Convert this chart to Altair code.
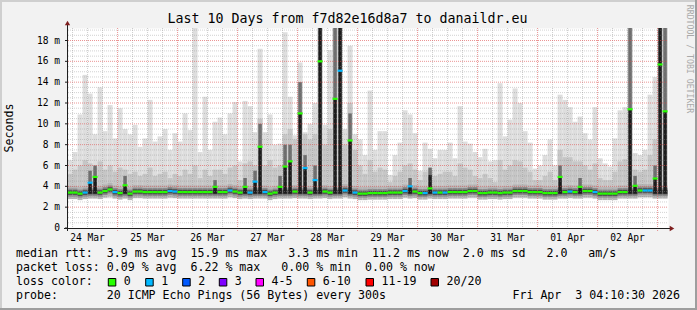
import altair as alt
import pandas as pd

# ---------------- data ----------------
# 2-hour bins, first bin starts Mar 24 04:00 (hours counted from Mar 24 00:00)
START_HOUR = 4
BIN_HOURS = 2
X_DOMAIN = [4.175, 244.175]      # Mar 24 04:10:30 .. Apr 3 04:10:30
Y_DOMAIN = [0, 19.2]

median_ms = [
    3.4, 3.4, 3.3, 3.4, 4.35, 4.9, 3.4, 3.55, 3.7, 3.45,
    3.35, 4.1, 3.3, 3.5, 3.5, 3.45, 3.45, 3.45, 3.45, 3.45,
    3.55, 3.5, 3.45, 3.45, 3.45, 3.45, 3.45, 3.45, 3.45, 3.95,
    3.45, 3.45, 3.6, 3.5, 3.4, 3.95, 3.4, 4.45, 7.8, 3.45,
    3.3, 3.4, 3.95, 5.9, 6.4, 3.5, 11.0, 5.75, 3.4, 4.6,
    16.0, 3.5, 3.4, 12.4, 15.1, 3.6, 8.4, 3.4, 3.3, 3.3,
    3.35, 3.35, 3.35, 3.35, 3.4, 3.4, 3.4, 3.55, 4.0, 3.5,
    3.35, 3.35, 3.8, 3.4, 3.4, 3.4, 3.45, 3.45, 3.45, 3.45,
    3.55, 3.55, 3.35, 3.35, 3.4, 3.4, 3.35, 3.4, 3.4, 3.55,
    3.55, 3.55, 3.45, 3.45, 3.45, 3.35, 3.35, 3.35, 4.9, 3.45,
    3.5, 3.45, 3.95, 3.55, 3.55, 3.45, 3.3, 3.3, 3.3, 3.3,
    3.45, 3.45, 11.4, 4.05, 3.6, 3.6, 3.6, 4.75, 15.7, 11.2,
]

loss_idx = [
    0, 0, 0, 1, 1, 0, 0, 0, 0, 1,
    0, 0, 0, 0, 0, 0, 0, 0, 0, 0,
    1, 1, 0, 0, 0, 0, 0, 0, 0, 0,
    0, 0, 1, 0, 0, 0, 1, 1, 0, 1,
    0, 0, 0, 0, 0, 0, 0, 1, 0, 1,
    0, 0, 0, 0, 1, 1, 0, 1, 0, 0,
    0, 0, 0, 0, 0, 0, 0, 1, 1, 0,
    0, 1, 0, 1, 0, 1, 0, 0, 0, 0,
    0, 0, 0, 0, 0, 0, 0, 0, 0, 0,
    0, 0, 0, 0, 0, 0, 0, 0, 0, 0,
    1, 0, 0, 0, 0, 1, 0, 0, 0, 0,
    0, 0, 0, 0, 0, 1, 1, 0, 0, 0,
]

max_ms = [
    6.5, 7.3, 10.9, 14.7, 12.9, 9.0, 13.5, 9.3, 11.8, 8.6,
    11.5, 9.5, 9.0, 9.9, 7.8, 8.6, 12.3, 8.3, 8.8, 9.5,
    7.5, 9.1, 8.3, 11.0, 9.4, 19.2, 7.3, 12.6, 7.5, 10.2,
    10.6, 9.0, 11.0, 12.1, 6.4, 12.2, 11.7, 9.2, 17.2, 9.2,
    10.9, 8.0, 8.1, 18.8, 12.6, 8.9, 15.9, 9.2, 10.0, 12.0,
    19.2, 9.9, 17.1, 19.2, 19.2, 9.5, 17.5, 9.0, 8.5, 7.0,
    13.2, 7.5, 9.3, 9.3, 5.1, 7.0, 8.2, 11.3, 10.9, 9.1,
    5.5, 8.2, 7.6, 6.7, 7.5, 7.5, 8.2, 6.7, 11.7, 8.3,
    8.1, 7.3, 6.8, 7.6, 6.4, 6.5, 13.9, 8.8, 10.4, 13.4,
    12.0, 9.3, 8.2, 5.7, 6.0, 7.0, 8.5, 6.0, 12.8, 12.3,
    11.6, 10.2, 10.7, 9.1, 8.5, 11.6, 6.7, 6.2, 5.9, 8.6,
    11.3, 11.6, 19.2, 7.2, 7.0, 7.5, 12.8, 14.5, 19.2, 19.2,
]

upper_ms = [
    5.2, 5.6, 6.0, 6.5, 6.2, 5.8, 6.4, 5.6, 6.0, 5.4,
    5.8, 5.6, 5.2, 5.4, 5.0, 5.2, 5.8, 5.0, 5.2, 5.4,
    4.8, 5.2, 5.0, 5.6, 5.2, 6.0, 4.8, 5.6, 5.0, 5.6,
    5.6, 5.2, 5.8, 6.0, 4.6, 6.2, 6.4, 6.0, 10.5, 6.0,
    6.5, 5.8, 6.0, 9.0, 9.5, 8.5, 14.0, 9.0, 8.5, 9.0,
    19.2, 8.0, 9.5, 19.2, 19.2, 8.0, 12.0, 7.5, 6.0, 5.2,
    6.5, 5.4, 5.8, 5.6, 4.4, 5.0, 5.4, 6.0, 6.2, 5.6,
    4.6, 5.4, 5.6, 5.0, 5.2, 5.4, 5.4, 5.0, 6.2, 5.8,
    5.6, 5.0, 4.8, 5.2, 4.8, 4.4, 6.5, 5.6, 6.0, 6.5,
    6.4, 5.8, 5.4, 4.6, 4.6, 5.0, 5.4, 4.6, 7.5, 6.8,
    6.8, 6.4, 6.4, 6.0, 5.6, 6.2, 4.8, 4.6, 4.6, 5.4,
    6.4, 6.6, 19.2, 5.6, 5.4, 5.6, 7.0, 8.5, 19.2, 19.2,
]

# dense (black) smoke columns at the spikes
spike_bin = [4, 5, 11, 29, 35, 37, 38, 42, 43, 44, 46, 47, 49, 50, 53, 54,
             56, 68, 72, 98, 102, 112, 113, 117, 118, 119]
spike_top = [4.35, 4.9, 4.1, 3.95, 3.95, 4.45, 7.8, 3.95, 5.9, 6.4, 11.0, 5.75,
             4.6, 19.2, 12.4, 19.2, 8.4, 4.0, 5.1, 4.9, 3.95, 11.4, 4.05, 4.75,
             19.2, 11.2]
spike_haze = [5.5, 6.0, 5.0, 4.6, 4.8, 5.5, 10.0, 5.0, 8.0, 8.0, 14.0, 7.0,
              6.0, 19.2, 19.2, 19.2, 11.0, 4.8, 5.8, 6.0, 4.8, 19.2, 5.0, 6.0,
              19.2, 19.2]

loss_labels = ["0", "1", "2", "3", "4-5", "6-10", "11-19", "20/20"]
loss_colors = ["#26ff00", "#00b8ff", "#0059ff", "#7e00ff", "#ff00ff",
               "#ff5500", "#ff0000", "#a00000"]

day_labels = ["24 Mar", "25 Mar", "26 Mar", "27 Mar", "28 Mar",
              "29 Mar", "30 Mar", "31 Mar", "01 Apr", "02 Apr"]
y_ticks = [0, 2, 4, 6, 8, 10, 12, 14, 16, 18]
y_tick_labels = ["0", "2 m", "4 m", "6 m", "8 m", "10 m", "12 m", "14 m", "16 m", "18 m"]

title_text = "Last 10 Days from f7d82e16d8a7 to danaildr.eu"
stat_rows = [
    "median rtt:  3.9 ms avg  15.9 ms max   3.3 ms min  11.2 ms now  2.0 ms sd   2.0   am/s",
    "packet loss: 0.09 % avg  6.22 % max   0.00 % min  0.00 % now",
    "loss color:",
    "probe:       20 ICMP Echo Pings (56 Bytes) every 300s",
]
stamp_text = "Fri Apr  3 04:10:30 2026"

# ---------------- tables ----------------
n = len(median_ms)
spike_set = set(spike_bin)
df = pd.DataFrame({
    "h0": [START_HOUR + BIN_HOURS * i for i in range(n)],
    "h1": [START_HOUR + BIN_HOURS * (i + 1) for i in range(n)],
    "med": median_ms,
    "loss": [loss_labels[i] for i in loss_idx],
    "hi": max_ms,
    "mid": upper_ms,
    "spike": [i in spike_set for i in range(n)],
})
df_sp = pd.DataFrame({
    "hc": [START_HOUR + BIN_HOURS * b + BIN_HOURS / 2 for b in spike_bin],
    "top": spike_top,
    "haze": spike_haze,
})
df_days = pd.DataFrame({"h": [12 + 24 * i for i in range(len(day_labels))], "lab": day_labels})
df_yt = pd.DataFrame({"v": y_ticks, "lab": y_tick_labels})

MONO = "DejaVu Sans Mono"
W, H = 600, 200
xs = alt.Scale(domain=X_DOMAIN, nice=False, zero=False)
ys = alt.Scale(domain=Y_DOMAIN, nice=False, zero=False)


def X(f):
    return alt.X(f, scale=xs, axis=None)


def Y(f):
    return alt.Y(f, scale=ys, axis=None)


base = alt.Chart(df)

light = base.transform_calculate(lo="2.85").mark_rect(color="#dedede", clip=True).encode(
    x=X("h0:Q"), x2="h1:Q", y=Y("lo:Q"), y2="hi:Q")
medium = base.transform_calculate(lo="3.0").mark_rect(color="#c6c6c6", clip=True).encode(
    x=X("h0:Q"), x2="h1:Q", y=Y("lo:Q"), y2="mid:Q")
core = base.transform_calculate(core="datum.spike ? 3.45 : datum.med")
core_layers = [
    core.mark_rule(strokeWidth=w, color=c, clip=True).encode(
        x=X("h0:Q"), x2="h1:Q", y=Y("core:Q"))
    for w, c in [(13, "#b4b4b4"), (8, "#8a8a8a"), (4.5, "#4a4a4a")]
]
spk = alt.Chart(df_sp)
haze = spk.mark_rule(strokeWidth=3.5, color="#6e6e6e", clip=True).encode(
    x=X("hc:Q"), y=Y("top:Q"), y2="haze:Q")
black = spk.transform_calculate(lo="3.3").mark_rule(strokeWidth=3.5, color="#1c1c1c", clip=True).encode(
    x=X("hc:Q"), y=Y("lo:Q"), y2="top:Q")

# grid
vminor = [h for h in range(6, 245, 6) if h % 24 and X_DOMAIN[0] <= h <= X_DOMAIN[1]]
vmajor = [h for h in range(24, 245, 24)]
hminor = [k * 0.5 for k in range(1, 39) if k % 4]
hmajor = y_ticks[1:]
GRID = "#8f8f8f"
MGRID = "#de4f4f"
gv_minor = alt.Chart(pd.DataFrame({"h": vminor})).mark_rule(
    color=GRID, strokeDash=[1, 1], opacity=0.45).encode(
    x=X("h:Q"), y=alt.value(0), y2=alt.value(H))
gh_minor = alt.Chart(pd.DataFrame({"v": hminor})).mark_rule(
    color=GRID, strokeDash=[1, 1], opacity=0.4).encode(
    y=Y("v:Q"), x=alt.value(0), x2=alt.value(W))
gv_major = alt.Chart(pd.DataFrame({"h": vmajor})).mark_rule(
    color=MGRID, strokeDash=[1, 1], opacity=0.6).encode(
    x=X("h:Q"), y=alt.value(0), y2=alt.value(H + 3))
gh_major = alt.Chart(pd.DataFrame({"v": hmajor})).mark_rule(
    color=MGRID, strokeDash=[1, 1], opacity=0.6).encode(
    y=Y("v:Q"), x=alt.value(0), x2=alt.value(W))

median = base.mark_rule(strokeWidth=2.2, clip=True).encode(
    x=X("h0:Q"), x2="h1:Q", y=Y("med:Q"),
    color=alt.Color("loss:N", scale=alt.Scale(domain=loss_labels, range=loss_colors), legend=None),
)

# axis labels and ticks, through the same scales
xlab = alt.Chart(df_days).mark_text(font=MONO, fontSize=9.6, align="center",
                                    baseline="middle", color="#000000").encode(
    x=X("h:Q"), y=alt.value(H + 9.5), text="lab:N")
# value-axis labels: x offset drawn by dx so that the label layer keeps a plain position
ylab = alt.Chart(df_yt).mark_text(font=MONO, fontSize=9.6, align="right",
                                  baseline="middle", color="#000000", dx=-8).encode(
    y=Y("v:Q"), x=alt.value(0), text="lab:N")
ytick = alt.Chart(df_yt).mark_rule(color="#1f1f1f").encode(
    y=Y("v:Q"), x=alt.value(-3), x2=alt.value(0))

# ---------------- decorations (pixel positions relative to plot origin) ----------------
one = pd.DataFrame({"a": [0]})


def rect(x, x2, y, y2, color, stroke=None):
    kw = dict(color=color)
    if stroke:
        kw = dict(fill=color, stroke=stroke, strokeWidth=1)
    return alt.Chart(one).mark_rect(**kw).encode(
        x=alt.value(x), x2=alt.value(x2), y=alt.value(y), y2=alt.value(y2))


def text(s, x, y, size=11.6, align="left", angle=0, color="#000000"):
    return alt.Chart(one).mark_text(
        text=s.replace(" ", "\u00a0"), font=MONO, fontSize=size, align=align,
        baseline="middle", angle=angle, color=color).encode(
        x=alt.value(x), y=alt.value(y))


deco = []
# 3-D frame
deco.append(rect(-68, 629, -28, -26, "#cfcfcf"))
deco.append(rect(-68, -66, -28, 282, "#cfcfcf"))
deco.append(rect(-68, 629, 280, 282, "#9e9e9e"))
deco.append(rect(627, 629, -28, 282, "#9e9e9e"))
# axis lines and arrows
deco.append(alt.Chart(one).mark_rule(color="#1f1f1f").encode(
    x=alt.value(-0.5), y=alt.value(-4), y2=alt.value(H + 3)))
deco.append(alt.Chart(one).mark_rule(color="#1f1f1f").encode(
    y=alt.value(H + 0.5), x=alt.value(-4), x2=alt.value(W + 3)))
deco.append(alt.Chart(one).mark_point(shape="triangle-up", filled=True, size=28,
                                      color="#7f1f1f", opacity=1).encode(
    x=alt.value(-0.5), y=alt.value(-5)))
deco.append(alt.Chart(one).mark_point(shape="triangle-right", filled=True, size=28,
                                      color="#7f1f1f", opacity=1).encode(
    x=alt.value(W + 4), y=alt.value(H + 0.5)))
# titles
deco.append(text(title_text, 279.5, -9, size=13.3, align="center"))
deco.append(text("Seconds", -58, 100, angle=270, align="center"))
deco.append(text("RRDTOOL / TOBI OETIKER", 620.5, 31, size=8.2, align="center",
                 angle=90, color="#a9a9a9"))
# statistics
row_y = [226.3, 240, 254.3, 268]
for s, yy in zip(stat_rows, row_y):
    deco.append(text(s, -52, yy))
deco.append(text(stamp_text, 612, row_y[3], align="right"))
sq_x = [40.3, 77.7, 114.7, 151.3, 188, 239.3, 298, 363]
for lab, col, sx in zip(loss_labels, loss_colors, sq_x):
    deco.append(rect(sx, sx + 7.5, 250.5, 258, col, stroke="#000000"))
    deco.append(text(lab, sx + 15.5, row_y[2]))

layers = [light, medium] + core_layers + [haze, black, gv_minor, gh_minor, gv_major,
                                          gh_major, median, xlab, ytick] + deco + [ylab]

chart = alt.layer(*layers).properties(
    width=W, height=H,
    padding={"left": 68, "top": 28, "right": 29, "bottom": 82},
    autosize=alt.AutoSizeParams(type="none"),
    background="#f2f2f2",
).configure_view(fill="#ffffff", stroke="transparent")

chart.save("out.html", embed_options={"renderer": "svg", "actions": False})
